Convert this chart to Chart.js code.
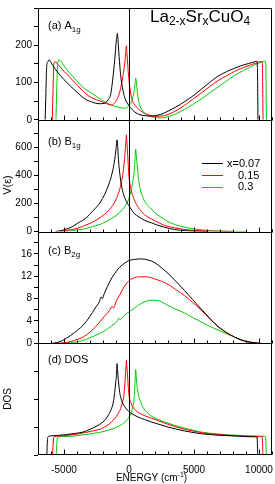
<!DOCTYPE html>
<html lang="en">
<head>
<meta charset="UTF-8">
<title>La2-xSrxCuO4 vertices and DOS</title>
<style>
  body { margin: 0; background: #fff; }
  #wrap { position: relative; width: 275px; height: 484px; }
</style>
<script src="https://cdn.jsdelivr.net/npm/chart.js"></script>
</head>
<body>
<div id="wrap"><canvas id="chart"></canvas></div>
<script>
const FONT = "'Liberation Sans', Arial, sans-serif";
const dopings = ['x=0.07', '0.15', '0.3'];
const colors = ['#000000', '#ff0000', '#00cc00'];

// (a) A1g
const aE07 = [-6450, -6400, -6330, -6250, -6150, -5900, -5500, -5000, -4500, -4000, -3400, -2800, -2300, -1900, -1600, -1400, -1230, -1100, -970, -890, -820, -760, -650, -500, -330, 0, 400, 1000, 1700, 2400, 3000, 3600, 4300, 5000, 5600, 6200, 6850, 7500, 8100, 8700, 9200, 9600, 9820, 9880, 9920];
const aV07 = [0, 60, 145, 155, 161, 148, 128, 108, 90, 74, 56, 47, 43, 44, 54, 70, 115, 160, 215, 232, 200, 170, 122, 86, 60, 38, 22, 12, 10, 14, 23, 34, 49, 66, 83, 100, 117, 129, 138, 146, 151, 155, 157, 140, 0];
const aE15 = [-5900, -5850, -5780, -5700, -5400, -5000, -4500, -4000, -3400, -2800, -2200, -1700, -1360, -1000, -715, -460, -300, -230, -200, -160, -125, -60, 0, 180, 400, 570, 900, 1210, 1600, 1980, 2500, 3000, 3600, 4285, 4900, 5570, 6200, 6850, 7500, 8130, 8800, 9415, 9900, 10185, 10260, 10310];
const aV15 = [0, 70, 150, 156, 146, 130, 112, 94, 72, 58, 50, 43, 40, 50, 74, 119, 160, 190, 199, 180, 163, 130, 105, 61, 42, 34, 24, 17, 12, 9, 10, 14, 24, 39, 55, 72, 89, 105, 118, 130, 140, 148, 154, 157, 150, 0];
const aE30 = [-5620, -5560, -5480, -5380, -5100, -4800, -4300, -3800, -3400, -2800, -2300, -1870, -1400, -845, -600, -330, 0, 180, 300, 385, 460, 515, 570, 645, 720, 825, 1000, 1210, 1720, 2400, 3000, 3600, 4285, 4900, 5570, 6200, 6850, 7500, 8130, 8800, 9415, 9900, 10310, 10450, 10520, 10570];
const aV30 = [0, 80, 152, 161, 150, 135, 115, 96, 83, 70, 58, 48, 40, 34, 32, 31, 38, 47, 60, 74, 95, 112, 100, 74, 55, 39, 27, 17, 8, 5, 8, 16, 28, 41, 56, 72, 88, 104, 119, 132, 143, 151, 156, 158, 150, 0];

// (b) B1g
const bE07 = [-5650, -5300, -4815, -4400, -4050, -3400, -2640, -2200, -1870, -1600, -1355, -1200, -1100, -1000, -920, -870, -845, -780, -715, -600, -460, -250, 0, 440, 690, 1200, 1720, 2200, 2715, 3515, 4300, 5050, 6000];
const bV07 = [0, 5, 18, 32, 54, 90, 161, 210, 267, 325, 397, 460, 515, 590, 656, 610, 562, 480, 420, 340, 279, 225, 184, 125, 109, 80, 62, 45, 31, 14, 6, 2, 0];
const bE15 = [-5350, -4800, -4000, -3408, -2900, -2385, -1850, -1355, -1000, -715, -460, -305, -240, -200, -160, -125, -70, -25, 185, 440, 715, 1200, 1720, 2300, 2745, 3515, 4300, 5050, 6000, 7000, 8000];
const bV15 = [0, 8, 22, 43, 62, 90, 125, 173, 230, 302, 420, 562, 640, 692, 640, 586, 500, 420, 290, 220, 173, 120, 90, 62, 43, 26, 14, 7, 3, 1, 0];
const bE30 = [-5100, -4500, -3400, -2800, -2125, -1500, -845, -500, -200, 0, 185, 300, 385, 450, 490, 515, 545, 615, 690, 770, 900, 1075, 1210, 1720, 1980, 2745, 3000, 3600, 4285, 5000, 5570, 6300, 7100, 8000, 9000];
const bV30 = [0, 5, 20, 35, 55, 85, 125, 158, 196, 240, 302, 360, 420, 500, 560, 590, 560, 491, 410, 350, 290, 243, 215, 161, 135, 85, 70, 48, 31, 18, 12, 6, 3, 1, 0];

// (c) B2g
const cE07 = [-5850, -5300, -4815, -4200, -3540, -3000, -2600, -2250, -2150, -2050, -1900, -1485, -1100, -715, -300, 0, 440, 900, 1460, 2000, 2500, 3000, 3600, 4285, 4900, 5570, 6200, 6850, 7500, 8130, 8600, 9155, 9600, 9950];
const cV07 = [0, 0.3, 0.9, 1.9, 3.2, 4.8, 6.3, 7.6, 8.3, 8.0, 8.9, 11.0, 12.5, 13.6, 14.4, 14.8, 15.0, 15.1, 14.9, 14.4, 13.5, 12.5, 11.1, 9.4, 7.8, 6.1, 4.5, 3.0, 1.9, 1.1, 0.6, 0.25, 0.1, 0];
const cE15 = [-5480, -4815, -4200, -3540, -3000, -2600, -2250, -1900, -1485, -1300, -1200, -970, -715, -460, 0, 440, 1000, 1500, 2000, 2490, 3000, 3600, 4285, 4900, 5570, 6200, 6850, 7500, 8130, 8600, 9155, 9700, 10150];
const cV15 = [0, 0.15, 0.5, 1.1, 2.0, 2.9, 3.8, 4.8, 5.9, 6.6, 6.3, 7.6, 8.6, 9.8, 11.2, 11.75, 11.9, 11.85, 11.5, 11.1, 10.55, 9.6, 8.5, 7.3, 5.9, 4.4, 3.0, 1.9, 1.1, 0.6, 0.25, 0.1, 0];
const cE30 = [-5080, -4500, -3540, -3000, -2250, -1700, -1230, -900, -800, -715, -400, 0, 440, 1000, 1720, 2300, 3000, 3600, 4285, 4900, 5570, 6200, 6850, 7500, 8130, 8600, 9155, 9600, 9950];
const cV30 = [0, 0.1, 0.5, 1.0, 1.75, 2.5, 3.3, 4.0, 4.5, 4.2, 4.9, 5.6, 6.3, 7.2, 7.7, 7.6, 6.75, 6.1, 5.4, 4.6, 3.8, 3.05, 2.35, 1.7, 1.1, 0.65, 0.25, 0.1, 0];

// (d) DOS
const dE07 = [-6320, -6280, -6220, -6100, -5500, -4815, -4200, -3540, -3000, -2385, -1870, -1600, -1355, -1200, -1100, -1020, -970, -920, -880, -845, -780, -715, -600, -460, -250, 0, 440, 690, 1200, 1720, 2300, 3000, 3600, 4285, 5000, 5570, 6850, 8130, 9670, 9850, 9900];
const dV07 = [0, 0.5, 0.66, 0.68, 0.7, 0.73, 0.77, 0.82, 0.92, 1.06, 1.24, 1.42, 1.65, 1.9, 2.24, 2.6, 2.83, 3.27, 3.05, 2.83, 2.5, 2.24, 2.0, 1.83, 1.68, 1.55, 1.42, 1.36, 1.27, 1.18, 1.1, 1.0, 0.93, 0.86, 0.8, 0.76, 0.71, 0.68, 0.65, 0.64, 0];
const dE15 = [-5880, -5820, -5750, -5300, -4800, -4000, -3408, -2800, -2125, -1700, -1355, -1100, -845, -650, -510, -400, -330, -270, -230, -200, -165, -125, -70, -25, 185, 440, 690, 1200, 1720, 2300, 2745, 3515, 4285, 5000, 5570, 6850, 8130, 9400, 10050, 10250, 10300];
const dV15 = [0, 0.5, 0.66, 0.68, 0.7, 0.75, 0.8, 0.86, 0.94, 1.05, 1.18, 1.3, 1.47, 1.66, 1.88, 2.1, 2.47, 2.9, 3.18, 3.39, 3.15, 2.94, 2.55, 2.24, 1.83, 1.63, 1.53, 1.41, 1.32, 1.22, 1.14, 1.02, 0.92, 0.85, 0.8, 0.73, 0.69, 0.67, 0.66, 0.65, 0];
const dE30 = [-5600, -5540, -5480, -5000, -4000, -3408, -2500, -1870, -1300, -845, -500, -200, 0, 185, 300, 385, 430, 460, 490, 515, 550, 590, 660, 745, 900, 1075, 1400, 1720, 2200, 2745, 3515, 4285, 5000, 5570, 6850, 8130, 9400, 10310, 10500, 10560];
const dV30 = [0, 0.5, 0.64, 0.66, 0.69, 0.73, 0.79, 0.85, 0.93, 1.02, 1.11, 1.24, 1.36, 1.53, 1.72, 2.0, 2.3, 2.59, 2.85, 3.06, 2.85, 2.59, 2.35, 2.12, 1.9, 1.71, 1.52, 1.39, 1.28, 1.18, 1.06, 0.96, 0.88, 0.82, 0.75, 0.71, 0.68, 0.67, 0.66, 0];

const panels = [
  { axis: 'ya', label: [['(a) A', 11, 0], ['1g', 8, 3]], drop: 21, sets: [[aE07, aV07], [aE15, aV15], [aE30, aV30]] },
  { axis: 'yb', label: [['(b) B', 11, 0], ['1g', 8, 3]], drop: 25, sets: [[bE07, bV07], [bE15, bV15], [bE30, bV30]] },
  { axis: 'yc', label: [['(c) B', 11, 0], ['2g', 8, 3]], drop: 22, sets: [[cE07, cV07], [cE15, cV15], [cE30, cV30]] },
  { axis: 'yd', label: [['(d) DOS', 11, 0]], drop: 20, sets: [[dE07, dV07], [dE15, dV15], [dE30, dV30]] }
];

const datasets = [];
panels.forEach(p => {
  p.sets.forEach(([e, v], i) => {
    datasets.push({
      label: dopings[i],
      data: e.map((x, k) => ({ x: x, y: v[k] })),
      yAxisID: p.axis,
      borderColor: colors[i],
      borderWidth: 1,
      pointRadius: 0,
      fill: false,
      cubicInterpolationMode: 'monotone'
    });
  });
});

function yScale(max, step, every, weight) {
  return {
    type: 'linear', position: 'left', stack: 'panels', stackWeight: 1, weight: weight,
    offset: false, min: 0, max: max,
    border: { display: false },
    grid: { drawOnChartArea: false, drawTicks: true, tickLength: 4, color: '#000' },
    ticks: {
      stepSize: step, autoSkip: false, padding: 2, color: '#000', font: { size: 10 },
      callback: v => (every && v % every === 0 && v < max) ? String(v) : ''
    },
    afterFit: s => { s.width = 38; }
  };
}

// draws text pieces with sub/superscripts
function rich(ctx, parts, x, y) {
  for (const [t, size, dy] of parts) {
    ctx.font = size + 'px ' + FONT;
    ctx.fillText(t, x, y + dy);
    x += ctx.measureText(t).width;
  }
  return x;
}
function richWidth(ctx, parts) {
  let w = 0;
  for (const [t, size] of parts) { ctx.font = size + 'px ' + FONT; w += ctx.measureText(t).width; }
  return w;
}

const decor = {
  id: 'decor',
  afterDatasetsDraw(chart) {
    const { ctx, chartArea: ca, scales } = chart;
    const xs = scales.x;
    ctx.save();
    ctx.strokeStyle = '#000';
    ctx.lineWidth = 1;
    const L = Math.round(ca.left) + 0.5, R = Math.round(ca.right) - 0.5;
    const T = Math.round(ca.top) + 0.5, B = Math.round(ca.bottom) - 0.5;
    ctx.beginPath();
    ctx.rect(L, T, R - L, B - T);
    const x0 = Math.round(xs.getPixelForValue(0)) + 0.5;
    ctx.moveTo(x0, T); ctx.lineTo(x0, B);
    panels.forEach(p => {
      const y0 = Math.min(B, Math.round(scales[p.axis].getPixelForValue(0)) + 0.5);
      ctx.moveTo(L, y0); ctx.lineTo(R, y0);
      xs.ticks.forEach(t => {
        const px = Math.round(xs.getPixelForValue(t.value)) + 0.5;
        const len = t.value % 5000 === 0 ? 5 : 3;
        ctx.moveTo(px, y0); ctx.lineTo(px, y0 - len);
      });
    });
    ctx.stroke();
    ctx.restore();
  },
  afterDraw(chart) {
    const { ctx, scales } = chart;
    ctx.save();
    ctx.fillStyle = '#000';
    ctx.textBaseline = 'alphabetic';
    ctx.textAlign = 'left';
    panels.forEach(p => rich(ctx, p.label, 48, scales[p.axis].top + p.drop));
    rich(ctx, [['La', 17, 0], ['2-x', 12, 3], ['Sr', 17, 0], ['x', 12, 3], ['CuO', 17, 0], ['4', 12, 3]], 150, 22);

    // legend
    const ly = [163, 175, 186.5];
    ctx.lineWidth = 1;
    dopings.forEach((d, i) => {
      ctx.strokeStyle = colors[i];
      ctx.beginPath();
      ctx.moveTo(202, Math.round(ly[i]) + 0.5);
      ctx.lineTo(223, Math.round(ly[i]) + 0.5);
      ctx.stroke();
      ctx.font = '11px ' + FONT;
      ctx.textBaseline = 'middle';
      ctx.fillText(d, i === 0 ? 227 : 238, ly[i] + 0.5);
    });

    // axis titles
    ctx.textBaseline = 'middle';
    ctx.textAlign = 'center';
    ctx.font = '11px ' + FONT;
    ctx.save(); ctx.translate(8, 185); ctx.rotate(-Math.PI / 2); ctx.fillText('V(\u03b5)', 0, 0); ctx.restore();
    ctx.font = '10px ' + FONT;
    ctx.save(); ctx.translate(8, 399); ctx.rotate(-Math.PI / 2); ctx.fillText('DOS', 0, 0); ctx.restore();

    ctx.textAlign = 'left';
    ctx.textBaseline = 'alphabetic';
    const xt = [['ENERGY (cm', 10, 0], ['-1', 7, -4], [')', 10, 0]];
    rich(ctx, xt, 151.5 - richWidth(ctx, xt) / 2, 481);
    ctx.restore();
  }
};

Chart.defaults.font.family = FONT;
Chart.defaults.color = '#000';

new Chart(document.getElementById('chart'), {
  type: 'line',
  data: { datasets: datasets },
  options: {
    responsive: true,
    maintainAspectRatio: false,
    animation: false,
    layout: { padding: { top: 1, right: 3, left: 0, bottom: 0 } },
    plugins: { legend: { display: false }, tooltip: { enabled: false } },
    scales: {
      x: {
        type: 'linear', min: -7000, max: 11000,
        border: { display: false },
        grid: { display: false },
        ticks: {
          stepSize: 1000, maxTicksLimit: 30, autoSkip: false, maxRotation: 0, padding: 1,
          font: { size: 10 }, color: '#000',
          callback: v => v % 5000 === 0 ? String(v) : ''
        },
        afterFit: s => { s.height = 29; }
      },
      ya: yScale(300, 50, 100, 4),
      yb: yScale(800, 100, 200, 3),
      yc: yScale(20, 2, 4, 2),
      yd: yScale(4, 1, 0, 1)
    }
  },
  plugins: [decor]
});
</script>
</body>
</html>
